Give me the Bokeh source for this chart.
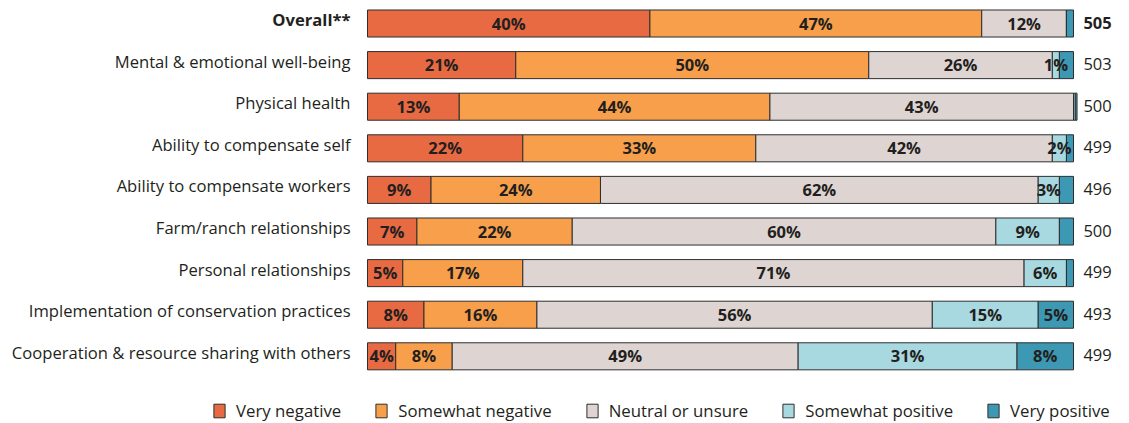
from bokeh.plotting import figure
from bokeh.models import ColumnDataSource, Range1d, Legend, LegendItem
from bokeh.core.properties import value
from bokeh.embed import file_html
from bokeh.resources import INLINE

# Survey items, top to bottom
categories = [
    "Overall**",
    "Mental & emotional well-being",
    "Physical health",
    "Ability to compensate self",
    "Ability to compensate workers",
    "Farm/ranch relationships",
    "Personal relationships",
    "Implementation of conservation practices",
    "Cooperation & resource sharing with others",
]
respondents = [505, 503, 500, 499, 496, 500, 499, 493, 499]

# Share of responses (%) per answer
very_negative = [40, 21, 13, 22, 9, 7, 5, 8, 4]
somewhat_negative = [47, 50, 44, 33, 24, 22, 17, 16, 8]
neutral = [12, 26, 43, 42, 62, 60, 71, 56, 49]
somewhat_positive = [0, 1, 0.25, 2, 3, 9, 6, 15, 31]
very_positive = [1, 2, 0.25, 1, 2, 2, 1, 5, 8]

series_names = ["Very negative", "Somewhat negative", "Neutral or unsure",
                "Somewhat positive", "Very positive"]
series_values = [very_negative, somewhat_negative, neutral,
                 somewhat_positive, very_positive]
colors = ["#E86A42", "#F79F4B", "#DED5D3", "#A8D8E0", "#3D98B3"]
# smallest value that gets a printed percentage, per answer
label_min = [1, 1, 1, 1, 5]

FONT = "Open Sans"
INK = "#231F20"

rows = list(range(len(categories)))
keys = ["s%d" % k for k in range(len(series_names))]
data = {"row": rows}
for k, vals in zip(keys, series_values):
    data[k] = vals
src = ColumnDataSource(data)

p = figure(width=1129, height=423, output_backend="svg", toolbar_location=None,
           x_range=Range1d(-51.98, 107.93), y_range=Range1d(9.615, -0.553),
           min_border=0, outline_line_color=None)
p.axis.visible = False
p.grid.visible = False
p.background_fill_color = "white"
p.border_fill_color = "white"

renderers = p.hbar_stack(keys, y="row", height=0.65, color=colors, source=src,
                         line_color="#2E2E2E", line_width=1)

# percentage labels centred in each segment
lx, ly, lt = [], [], []
for i in rows:
    left = 0.0
    for s, vals in enumerate(series_values):
        v = vals[i]
        if v >= label_min[s]:
            lx.append(left + v / 2)
            ly.append(i)
            lt.append("%d%%" % round(v))
        left += v
p.text(x=lx, y=ly, text=lt, text_align="center", text_baseline="middle",
       text_font=value(FONT), text_font_style="bold", text_font_size="16.5px",
       text_color=INK, y_offset=-0.5)

# category labels to the left of the bars, sitting slightly high
p.text(x=[-2.4] * len(rows), y=rows, text=categories,
       text_align="right", text_baseline="middle", text_font=value(FONT),
       text_font_size="16.6px", text_color=INK, y_offset=-4,
       text_font_style=["bold" if i == 0 else "normal" for i in rows])

# respondent counts to the right
p.text(x=[101.4] * len(rows), y=rows, text=[str(n) for n in respondents],
       text_align="left", text_baseline="middle", text_font=value(FONT),
       text_font_size="16.5px", text_color=INK, y_offset=-1,
       text_font_style=["bold" if i == 0 else "normal" for i in rows])

legend = Legend(items=[LegendItem(label=n, renderers=[r])
                       for n, r in zip(series_names, renderers)],
                orientation="horizontal", location=(212, 1),
                glyph_width=14, glyph_height=17, label_standoff=10,
                spacing=33, padding=0, margin=0,
                border_line_color=None, background_fill_alpha=0,
                label_text_font=FONT, label_text_font_size="16.8px",
                label_text_color=INK, label_height=17)
p.add_layout(legend)

open("out.html", "w").write(file_html(p, INLINE))
